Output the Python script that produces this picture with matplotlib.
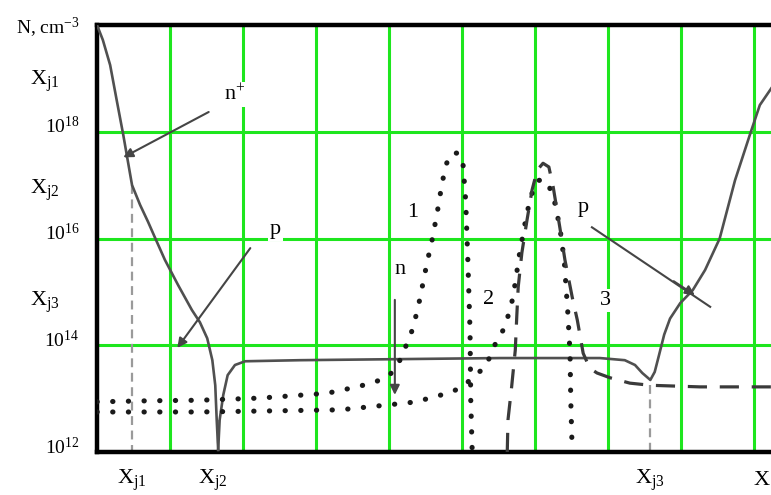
import numpy as np
import matplotlib.pyplot as plt

plt.rcParams['font.family'] = ['Liberation Serif', 'DejaVu Serif']
plt.rcParams['mathtext.fontset'] = 'custom'
plt.rcParams['mathtext.rm'] = 'Liberation Serif'
plt.rcParams['mathtext.it'] = 'Liberation Serif:italic'

# depth in grid cells, doping as log10(N, cm^-3)
solid_x = [0.00, 0.08, 0.18, 0.27, 0.36, 0.42, 0.48, 0.59, 0.70, 0.79, 0.93, 1.11,
           1.30, 1.41, 1.51, 1.58, 1.62, 1.64, 1.66]
solid_e = [20.0, 19.72, 19.25, 18.59, 17.94, 17.47, 17.0, 16.63, 16.31, 16.03, 15.6, 15.13,
           14.66, 14.43, 14.13, 13.72, 13.25, 12.6, 12.04]

base_x = [1.66, 1.68, 1.73, 1.79, 1.89, 2.03, 2.78, 4.15, 5.52, 6.89, 7.23, 7.37,
          7.47, 7.58, 7.64, 7.70, 7.77, 7.85, 7.99, 8.16, 8.33, 8.53, 8.74, 8.95,
          9.08, 9.25]
base_e = [12.04, 12.6, 13.07, 13.44, 13.63, 13.70, 13.72, 13.74, 13.76, 13.76, 13.72, 13.63,
          13.48, 13.35, 13.50, 13.82, 14.2, 14.5, 14.79, 15.03, 15.41, 16.0, 17.09, 17.97,
          18.5, 18.84]

prof1_x = [0.00, 0.73, 1.41, 2.23, 3.15, 3.56, 3.81, 4.01, 4.18, 4.25, 4.33, 4.42,
           4.52, 4.59, 4.66, 4.73, 4.79, 4.86, 4.95, 5.01, 5.05, 5.08, 5.11, 5.12, 5.14]
prof1_e = [12.94, 12.96, 12.97, 13.01, 13.10, 13.22, 13.31, 13.44, 13.78, 14.06, 14.32, 14.85,
           15.54, 15.97, 16.48, 17.06, 17.41, 17.6, 17.6, 17.47, 16.72, 15.6, 14.28, 12.97, 12.0]

prof2_x = [0.00, 1.41, 3.33, 3.97, 4.38, 4.60, 4.81, 5.01, 5.18, 5.32, 5.48, 5.59,
           5.70, 5.79, 5.89, 5.96, 6.04, 6.15, 6.25, 6.34, 6.40, 6.45, 6.48, 6.49, 6.51]
prof2_e = [12.75, 12.75, 12.79, 12.88, 12.94, 13.03, 13.10, 13.22, 13.44, 13.59, 14.10, 14.34,
           14.9, 15.73, 16.48, 16.85, 17.09, 17.09, 16.81, 16.21, 15.6, 14.6, 13.85, 12.97, 12.0]

prof3_x = [5.62, 5.63, 5.68, 5.73, 5.75, 5.77, 5.82, 5.89, 5.96, 6.03, 6.11, 6.19,
           6.25, 6.34, 6.41, 6.51, 6.58, 6.66, 6.75, 6.85, 7.03, 7.30, 7.58, 8.26, 9.25]
prof3_e = [12.0, 12.6, 13.22, 13.91, 14.53, 15.09, 15.73, 16.34, 16.91, 17.28, 17.41, 17.34,
           16.96, 16.21, 15.6, 14.9, 14.47, 13.85, 13.57, 13.48, 13.39, 13.29, 13.25, 13.22, 13.22]

# junction depths and where their drop lines start
junc_x = [0.48, 1.66, 7.58]
junc_e = [17.0, 12.6, 13.25]

fig = plt.figure(figsize=(7.71, 4.95), dpi=100)
ax = fig.add_axes([97 / 771, 43 / 495, 674 / 771, 427 / 495])
ax.set_yscale('log')
ax.set_xlim(0, 9.233)
ax.set_ylim(1e12, 1e20)

green = '#1ee61e'
for gx in range(1, 10):
    ax.axvline(gx, color=green, lw=2.2, zorder=1)
for gy in [1e14, 1e16, 1e18]:
    ax.axhline(gy, color=green, lw=2.2, zorder=1)

for jx, je in zip(junc_x, junc_e):
    ax.plot([jx, jx], [10 ** je, 1e12], color='#9a9a9a', lw=1.6,
            linestyle=(0, (4, 2.5)), zorder=2)

ax.plot(solid_x, 10 ** np.array(solid_e), color='#505050', lw=1.9, zorder=3)
ax.plot(base_x, 10 ** np.array(base_e), color='#505050', lw=1.9, zorder=3)

dots = (0, (0.05, 3.0))
ax.plot(prof1_x, 10 ** np.array(prof1_e), color='#1a1a1a', lw=3.7,
        linestyle=dots, dash_capstyle='round', zorder=4)
ax.plot(prof2_x, 10 ** np.array(prof2_e), color='#1a1a1a', lw=3.7,
        linestyle=dots, dash_capstyle='round', zorder=4)
ax.plot(prof3_x, 10 ** np.array(prof3_e), color='#3a3a3a', lw=2.3,
        linestyle=(0, (6, 4)), zorder=4)

for side in ['left', 'top', 'bottom']:
    ax.spines[side].set_linewidth(3.2)
    ax.spines[side].set_color('black')
ax.spines['right'].set_visible(False)
ax.set_xticks([])
ax.set_yticks([])
ax.minorticks_off()

# axis captions
ytr = ax.get_yaxis_transform()
for val, lab in zip([12, 14, 16, 18], ['12', '14', '16', '18']):
    ax.text(-0.026, 10 ** (val + 0.09), r'$\mathrm{10^{%s}}$' % lab, transform=ytr,
            ha='right', va='center', fontsize=14)
for ev, lab in zip([18.95, 16.9, 14.8], ['j1', 'j2', 'j3']):
    ax.text(-0.055, 10 ** ev, r'X$_{\mathrm{%s}}$' % lab, transform=ytr,
            ha='right', va='center', fontsize=16)
ax.text(-0.025, 0.979, r'N, cm$^{\mathrm{-3}}$', transform=ax.transAxes,
        ha='right', va='baseline', fontsize=14)

xtr = ax.get_xaxis_transform()
for xv, lab in zip([0.48, 1.59, 7.58], ['j1', 'j2', 'j3']):
    ax.text(xv, -0.066, r'X$_{\mathrm{%s}}$' % lab, transform=xtr,
            ha='center', va='center', fontsize=16)
ax.text(9.22, -0.066, 'X', transform=xtr, ha='right', va='center', fontsize=16)

# region labels and pointers
white = dict(facecolor='white', edgecolor='none', pad=1.5)
arrow = dict(arrowstyle='-|>', color='#454545', lw=1.5, mutation_scale=14,
             shrinkA=0, shrinkB=0)
ax.text(1.89, 10 ** 18.69, r'n$^{\mathrm{+}}$', fontsize=16, ha='center', va='center',
        bbox=white, zorder=5)
ax.annotate('', xy=(0.36, 10 ** 17.52), xytext=(1.53, 10 ** 18.37), arrowprops=arrow, zorder=5)
ax.text(2.44, 10 ** 16.16, 'p', fontsize=16, ha='center', va='center', bbox=white, zorder=5)
ax.annotate('', xy=(1.10, 10 ** 13.95), xytext=(2.10, 10 ** 15.82), arrowprops=arrow, zorder=5)
ax.text(4.15, 10 ** 15.41, 'n', fontsize=16, ha='center', va='center', zorder=5)
ax.annotate('', xy=(4.08, 10 ** 13.07), xytext=(4.08, 10 ** 14.85), arrowprops=arrow, zorder=5)
ax.text(6.66, 10 ** 16.59, 'p', fontsize=16, ha='center', va='center', zorder=5)
ax.plot([6.78, 8.40], [10 ** 16.21, 10 ** 14.72], color='#454545', lw=1.5, zorder=5)
ax.annotate('', xy=(8.19, 10 ** 14.94), xytext=(7.9, 10 ** 15.2), arrowprops=arrow, zorder=5)
ax.text(4.32, 10 ** 16.48, '1', fontsize=16, ha='center', va='center', zorder=5)
ax.text(5.36, 10 ** 14.85, '2', fontsize=16, ha='center', va='center', zorder=5)
ax.text(6.97, 10 ** 14.83, '3', fontsize=16, ha='center', va='center', bbox=white, zorder=5)

fig.savefig('out.png', dpi=100)
